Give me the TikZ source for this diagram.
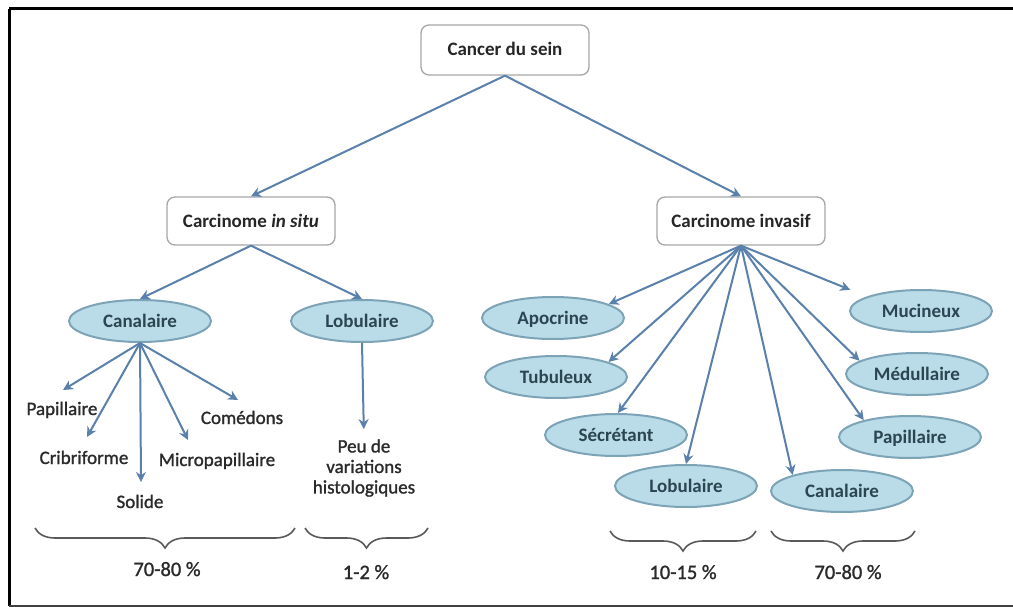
\documentclass[tikz,border=0pt]{standalone}
\usepackage{fontspec}
\setmainfont{Carlito}
\newfontfamily\medfont{Carlito}[FakeBold=1.2]
\usetikzlibrary{arrows.meta,shapes.geometric,decorations.pathreplacing}
\definecolor{arrc}{HTML}{5A80AC}
\definecolor{ellfill}{HTML}{B9DCE8}
\definecolor{elldraw}{HTML}{7DA3B6}
\definecolor{boxdraw}{HTML}{A6A6A6}
\definecolor{txt}{HTML}{2A2A2A}
\definecolor{elltxt}{HTML}{2C4552}
\begin{document}
\begin{tikzpicture}[x=1pt,y=-1pt,
 boxnode/.style={draw=boxdraw, line width=1.3pt, rounded corners=8pt, fill=white,
   minimum width=168pt, minimum height=48pt, text height=12pt, text depth=0pt,
   font=\fontsize{19}{22}\selectfont\bfseries, text=black!85},
 ellnode/.style={ellipse, draw=elldraw, line width=2pt, fill=ellfill,
   minimum width=142pt, minimum height=42pt, inner sep=0pt, text height=12pt, text depth=0pt,
   font=\fontsize{19}{22}\selectfont\bfseries, text=elltxt},
 leaf/.style={font=\fontsize{19}{20.5}\medfont, text=txt, inner sep=0pt,
   text height=12pt, text depth=0pt},
 multileaf/.style={font=\fontsize{19}{20.5}\medfont, text=txt, inner sep=0pt, align=center},
 pct/.style={font=\fontsize{20.5}{22}\medfont, text=txt, inner sep=0pt,
   text height=12pt, text depth=0pt},
 arr/.style={draw=arrc, line width=2pt, -{Stealth[length=10pt,width=10pt]}},
 brc/.style={draw=black!65, line width=1.6pt, decorate, decoration={brace, amplitude=20pt, mirror}},
 framel/.style={draw=black, line width=3pt}
]
\useasboundingbox (0,0) rectangle (1013,607);
\fill[white] (0,0) rectangle (1013,607);
% frame
\draw[framel] (9,9) -- (1013,9);
\draw[framel] (9,9) -- (9,606);
\draw[draw=black!75, line width=2.5pt] (9,606) -- (1013,606);

% top level
\node[boxnode, minimum height=50pt] (top) at (505,50) {Cancer du sein};
\node[boxnode] (cis) at (251,221) {Carcinome \textit{in situ}};
\node[boxnode] (ci) at (741,221) {Carcinome invasif};
\draw[arr] (top.south) -- (cis.north);
\draw[arr] (top.south) -- (ci.north);

% in situ branch
\node[ellnode] (can) at (140,321) {Canalaire};
\node[ellnode] (lob) at (362,321) {Lobulaire};
\draw[arr] (cis.south) -- (can.north);
\draw[arr] (cis.south) -- (lob.north);

\node[leaf] (pap) at (62,409) {Papillaire};
\node[leaf] (cri) at (84,458) {Cribriforme};
\node[leaf] (sol) at (140,502) {Solide};
\node[leaf] (mic) at (217,460) {Micropapillaire};
\node[leaf] (com) at (242,418) {Comédons};
\coordinate (tpap) at (63,390);
\coordinate (tcri) at (87,437);
\coordinate (tsol) at (141,482);
\coordinate (tmic) at (188,440);
\coordinate (tcom) at (238,400);
\draw[arr] (can.south) -- (tpap);
\draw[arr] (can.south) -- (tcri);
\draw[arr] (can.south) -- (tsol);
\draw[arr] (can.south) -- (tmic);
\draw[arr] (can.south) -- (tcom);

\node[multileaf] (peu) at (364,468) {Peu de\\variations\\histologiques};
\draw[arr, shorten >=10pt] (lob.south) -- (peu.north);

% invasive branch
\node[ellnode] (apo) at (553,318) {Apocrine};
\node[ellnode] (tub) at (556,377) {Tubuleux};
\node[ellnode] (sec) at (616,435) {Sécrétant};
\node[ellnode] (ilob) at (686,486) {Lobulaire};
\node[ellnode] (ican) at (842,491) {Canalaire};
\node[ellnode] (ipap) at (910,437) {Papillaire};
\node[ellnode] (med) at (917,374) {Médullaire};
\node[ellnode] (muc) at (921,311) {Mucineux};
\draw[arr] (ci.south) -- (apo.14);
\draw[arr] (ci.south) -- (tub.16);
\draw[arr] (ci.south) -- (sec.85);
\draw[arr] (ci.south) -- (ilob.90);
\draw[arr] (ci.south) -- (ican.162);
\draw[arr] (ci.south) -- (ipap.160);
\draw[arr] (ci.south) -- (med.167);
\draw[arr, shorten >=18pt] (ci.south) -- (muc.165);

% braces
\coordinate (b1a) at (35,528);  \coordinate (b1b) at (295,528);
\coordinate (b2a) at (305,528); \coordinate (b2b) at (428,528);
\coordinate (b3a) at (610,531); \coordinate (b3b) at (756,531);
\coordinate (b4a) at (771,531); \coordinate (b4b) at (915,531);
\draw[brc] (b1a) -- (b1b);
\draw[brc] (b2a) -- (b2b);
\draw[brc] (b3a) -- (b3b);
\draw[brc] (b4a) -- (b4b);
\node[pct] (p1) at (167,570) {70-80 \%};
\node[pct] (p2) at (366,573) {1-2 \%};
\node[pct] (p3) at (683,573) {10-15 \%};
\node[pct] (p4) at (848,573) {70-80 \%};
\end{tikzpicture}
\end{document}
